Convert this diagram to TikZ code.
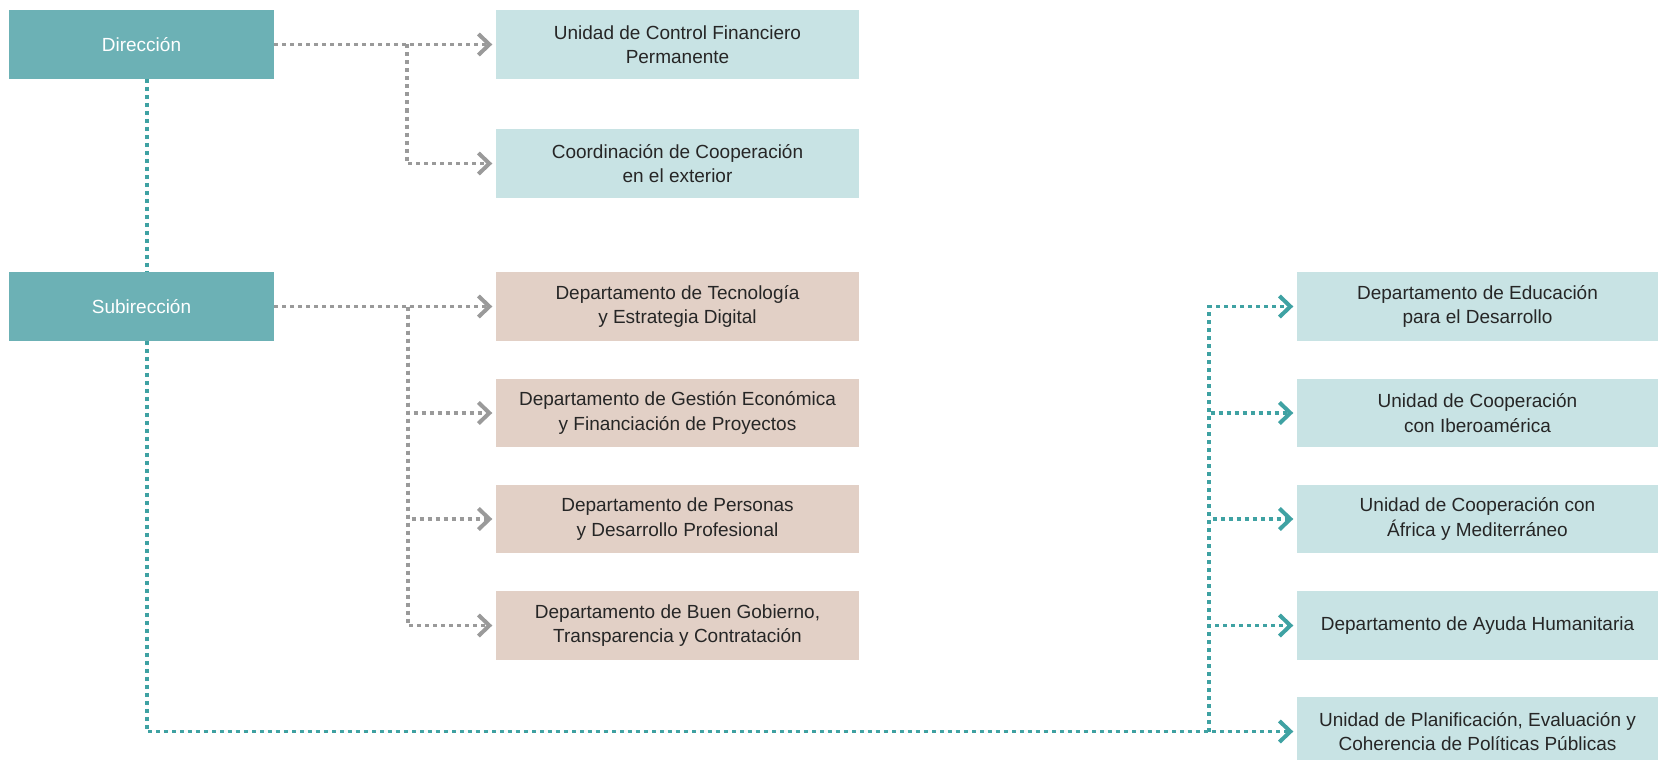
\documentclass[tikz,border=0pt]{standalone}
\usepackage{fontspec}
\setmainfont{Liberation Sans}
\usetikzlibrary{arrows.meta}
\definecolor{darkteal}{HTML}{6CB1B5}
\definecolor{lightteal}{HTML}{C8E3E4}
\definecolor{beige}{HTML}{E2D0C6}
\definecolor{greyline}{HTML}{9A9A9A}
\definecolor{tealline}{HTML}{3FA2A3}
\definecolor{txt}{HTML}{262626}
\begin{document}
\begin{tikzpicture}[x=1pt,y=-1pt,
  basebox/.style={inner sep=0pt, align=center, font=\fontsize{19}{24.5}\selectfont, minimum height=68.5pt},
  dbox/.style={basebox, fill=darkteal, text=white, minimum width=265pt},
  lbox/.style={basebox, fill=lightteal, text=txt, minimum width=363pt},
  bbox/.style={basebox, fill=beige, text=txt, minimum width=363pt},
  rbox/.style={basebox, fill=lightteal, text=txt, minimum width=361pt},
  dotline/.style={line width=3.6pt, dash pattern=on 4pt off 4pt},
  gline/.style={dotline, draw=greyline},
  tline/.style={dotline, draw=tealline},
  chev/.style={-{Straight Barb[length=11pt,width=21pt,line width=4pt]}, shorten >=3.5pt},
  garrow/.style={gline, chev},
  tarrow/.style={tline, chev}]
\useasboundingbox (0,0) rectangle (1658,760);

\node[dbox] (dir) at (141.5,44.5) {Dirección};
\node[dbox] (sub) at (141.5,306.5) {Subirección};

\node[lbox] (ucfp) at (677.5,44.5) {Unidad de Control Financiero\\Permanente};
\node[lbox] (coord) at (677.5,163.5) {Coordinación de Cooperación\\en el exterior};

\node[bbox] (br1) at (677.5,306.5) {Departamento de Tecnología\\y Estrategia Digital};
\node[bbox] (br2) at (677.5,413) {Departamento de Gestión Económica\\y Financiación de Proyectos};
\node[bbox] (br3) at (677.5,519) {Departamento de Personas\\y Desarrollo Profesional};
\node[bbox] (br4) at (677.5,625.5) {Departamento de Buen Gobierno,\\Transparencia y Contratación};

\node[rbox] (r1) at (1477.5,306.5) {Departamento de Educación\\para el Desarrollo};
\node[rbox] (r2) at (1477.5,413) {Unidad de Cooperación\\con Iberoamérica};
\node[rbox] (r3) at (1477.5,519) {Unidad de Cooperación con\\África y Mediterráneo};
\node[rbox] (r4) at (1477.5,625.5) {Departamento de Ayuda Humanitaria};
\node[rbox] (r5) at (1477.5,731.5) {Unidad de Planificación, Evaluación y\\Coherencia de Políticas Públicas};

% grey connectors
\coordinate (b1) at (407,44.5);
\draw[garrow] (dir) -- (ucfp);
\draw[garrow] (b1) |- (coord);

\coordinate (b2) at (408,306.5);
\draw[garrow] (sub) -- (br1);
\draw[garrow] (b2) |- (br2);
\draw[garrow] (b2) |- (br3);
\draw[garrow] (b2) |- (br4);

% teal connectors
\coordinate (vx) at (147,0);
\draw[tline] (dir.south -| vx) -- (sub.north -| vx);
\draw[tarrow] (sub.south -| vx) |- (r5);

\coordinate (b3) at (1209,731.5);
\draw[tarrow] (b3) |- (r1);
\draw[tarrow] (b3) |- (r2);
\draw[tarrow] (b3) |- (r3);
\draw[tarrow] (b3) |- (r4);
\end{tikzpicture}
\end{document}
